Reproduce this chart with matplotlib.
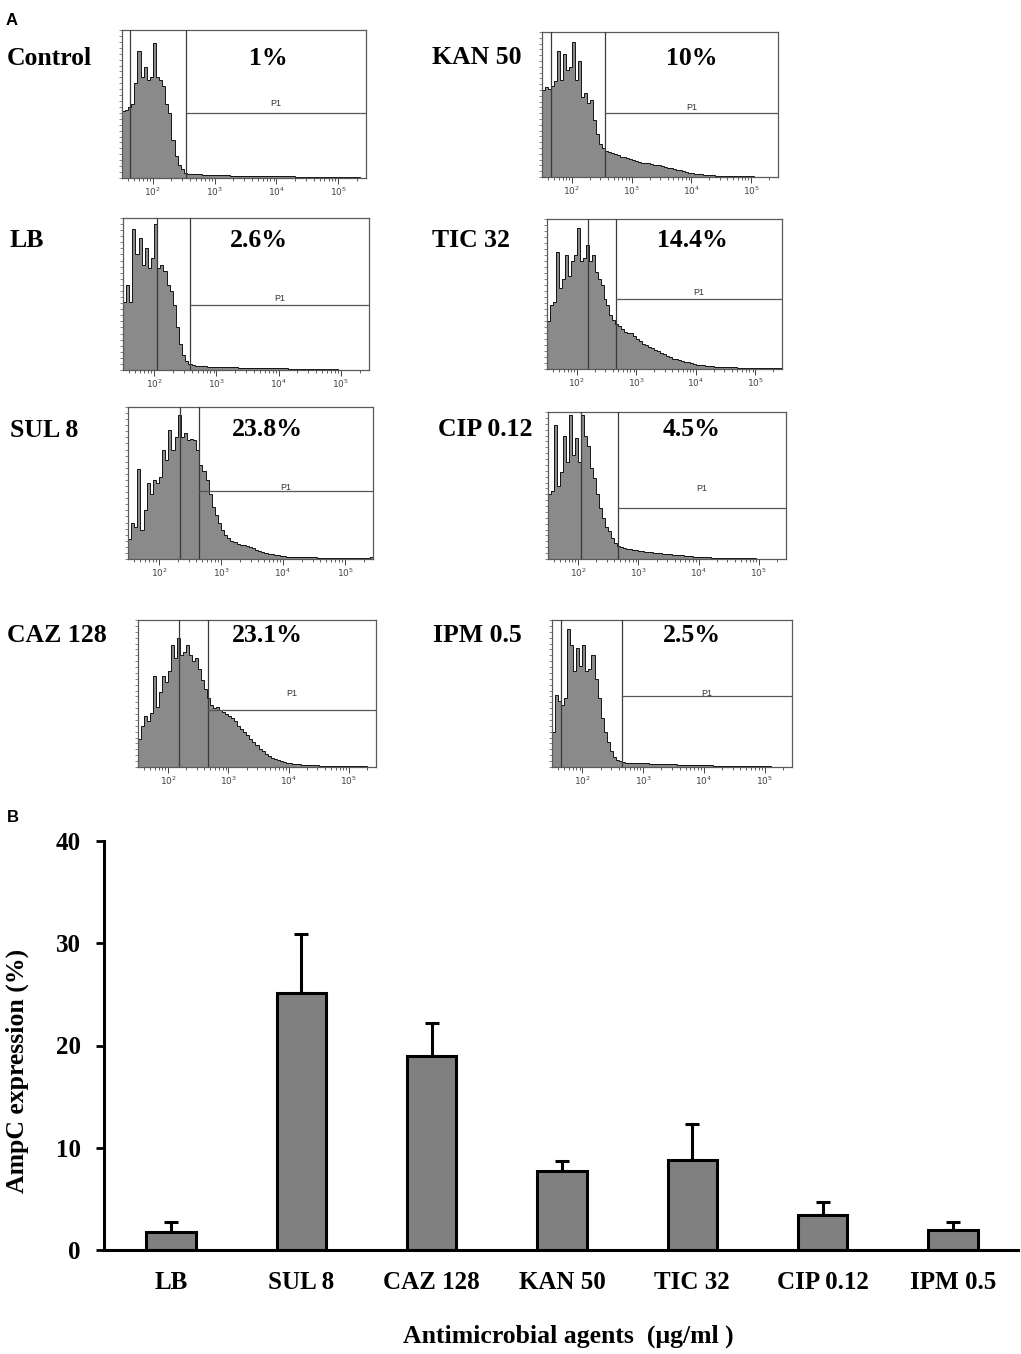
import numpy as np
import matplotlib
matplotlib.use("Agg")
import matplotlib.pyplot as plt
from matplotlib.ticker import LogLocator, NullFormatter, FixedLocator, FixedFormatter

# ---------------- data ----------------
panel_names = ["Control", "KAN 50", "LB", "TIC 32", "SUL 8", "CIP 0.12", "CAZ 128", "IPM 0.5"]
panel_pcts = ["1%", "10%", "2.6%", "14.4%", "23.8%", "4.5%", "23.1%", "2.5%"]
gate_pos = [340, 355, 372, 457, 446, 457, 457, 450]
marker_pos = [42, 45, 111, 155, 218, 112, 152, 44]
p1_level = [44, 44, 43, 47, 45, 35, 39, 48]
p1_label_level = [50, 48, 47, 51, 47, 48, 50, 50]
bin_lo_decade = 1.5
bin_width_decade = 0.05
x_range = (10 ** 1.5, 10 ** 5.45)

hist_control = [45, 46, 48, 50, 64, 86, 68, 75, 66, 68, 91, 68, 66, 62, 50, 44, 26, 15, 9, 6, 3.5,
                3.0, 2.8, 2.6, 2.5, 2.4, 2.2, 2.1, 2.0, 2.0, 1.9, 1.8, 1.8, 1.7, 1.7, 1.6,
                1.6, 1.6, 1.5, 1.5, 1.5, 1.4, 1.4, 1.4, 1.3, 1.3, 1.3, 1.3, 1.2, 1.2, 1.2, 1.2, 1.1, 1.1,
                1.1, 1.1, 1.0, 1.0, 1.0, 1.0, 1.0,
                0.9, 0.9, 0.8, 0.8, 0.8, 0.7, 0.7, 0.7, 0.6, 0.6, 0.6, 0.5, 0.5, 0.5, 0.4, 0.4, 0.3, 0.3]
hist_kan = [60, 62, 61, 63, 66, 87, 67, 85, 74, 76, 93, 67, 80, 55, 58, 51, 53, 39, 30, 23, 20,
            18, 17, 16.5, 16, 15, 14, 13.5, 13, 12.5, 12,
            11, 10.5, 10, 10, 9.5, 9, 8.5, 8, 8, 7.5,
            7, 6.5, 6, 5.5, 5, 4.5, 4, 3.5, 3, 2.5,
            2.2, 2, 1.8, 1.6, 1.4, 1.2, 1.1, 1.0, 0.9, 0.8,
            0.7, 0.7, 0.6, 0.6, 0.5, 0.5, 0.5, 0.4, 0.4, 0.4,
            0.3, 0.3, 0.3, 0.2, 0.2, 0.2, 0.1, 0.1]
hist_lb = [45, 56, 45, 93, 76, 87, 69, 80, 67, 74, 96, 67, 69, 65, 56, 52, 43, 28, 17, 10, 6, 3.7,
           3, 2.8, 2.6, 2.5, 2.4, 2.3, 2.2, 2.1, 2.0,
           1.9, 1.9, 1.8, 1.8, 1.7, 1.7, 1.6, 1.6, 1.5, 1.5, 1.4, 1.4, 1.3, 1.3, 1.2,
           1.2, 1.1, 1.1, 1.1, 1.0, 1.0, 1.0, 0.9, 0.9, 0.9, 0.8, 0.8, 0.8, 0.7, 0.7, 0.7, 0.6, 0.6, 0.5, 0.5,
           0.4, 0.4, 0.4, 0.3, 0.3, 0.3, 0.3, 0.2, 0.2, 0.2, 0.1, 0.1, 0.1]
hist_tic = [32, 43, 45, 78, 54, 60, 76, 62, 72, 76, 94, 72, 74, 83, 72, 76, 65, 60, 56, 47, 43, 36,
            33, 30, 29, 27, 25, 24, 24, 22, 20, 19,
            17, 16, 15, 14,
            13, 12, 11, 10, 9,
            8, 7, 6.5, 6, 5.5,
            5, 4.5, 4, 3.5, 3,
            2.8, 2.5, 2.3, 2, 1.8,
            1.6, 1.5, 1.4, 1.3, 1.3, 1.2, 1.2, 1.1, 1.0, 1.0,
            0.9, 0.9, 0.8, 0.8, 0.7, 0.7, 0.6, 0.6, 0.5, 0.5, 0.5, 0.4, 0.4]
hist_sul = [13, 24, 21, 59, 19, 32, 50, 43, 52, 50, 54, 72, 65, 85, 72, 80, 95, 80, 83, 78,
            79, 78, 72, 62, 58, 52, 43, 34, 29, 24, 19, 16, 14, 12, 11, 10, 9.5, 9, 8.5, 8,
            7, 6, 5, 4.5, 4, 3.5,
            3, 2.7, 2.4, 2.1, 1.9,
            1.5, 1.5, 1.4, 1.3, 1.3, 1.2, 1.2, 1.1, 1.0, 1.0,
            0.9, 0.9, 0.9, 0.8, 0.8, 0.8, 0.8, 0.7, 0.7, 0.7, 0.7, 0.7, 0.6, 0.6, 0.6, 0.6, 0.6, 1.5]
hist_cip = [44, 46, 91, 50, 59, 84, 66, 98, 71, 82, 66, 98, 84, 77, 62, 55, 44, 35, 28, 22, 19, 14,
            11, 9, 8, 7.5,
            7, 6.5, 6.2, 6, 5.7,
            5.4, 5.1, 4.8, 4.5, 4.2,
            4.0, 3.8, 3.6, 3.4, 3.2,
            3.0, 2.8, 2.6, 2.4, 2.2,
            2.0, 1.8, 1.6, 1.5, 1.4,
            1.3, 1.2, 1.1, 1.0, 1.0, 0.9, 0.9, 0.8, 0.8, 0.7,
            0.5, 0.5, 0.5, 0.5, 0.4, 0.4, 0.4, 0.4, 0.3, 0.3, 0.3, 0.3, 0.3, 0.2, 0.2, 0.2, 0.2, 0.2]
hist_caz = [19, 28, 35, 31, 37, 62, 41, 51, 62, 58, 65, 83, 74, 88, 76, 78, 83, 76, 72, 74,
            67, 59, 53, 47, 42, 40, 41, 39, 37.5, 36, 35, 33, 31, 28, 26, 24, 22, 19, 17, 15,
            12.5, 11, 9, 7.5, 6, 5.2,
            4.5, 4.0, 3.5, 3.0, 2.6,
            2.3, 2.0, 1.8, 1.6, 1.4,
            1.3, 1.2, 1.2, 1.1, 1.0, 1.0, 0.9, 0.9, 0.8, 0.8,
            0.7, 0.7, 0.6, 0.6, 0.5, 0.5, 0.5, 0.4, 0.4, 0.4, 0.3, 0.3, 0.3]
hist_ipm = [24, 49, 45, 42, 47, 94, 83, 65, 81, 69, 83, 65, 67, 76, 60, 47, 33, 24, 17, 11, 7, 5, 3.8,
            3.2, 3.0, 2.9, 2.8, 2.8, 2.7, 2.6, 2.5,
            2.4, 2.3, 2.3, 2.2, 2.1, 2.1, 2.0, 1.9, 1.9, 1.8,
            1.7, 1.7, 1.6, 1.5, 1.5, 1.4, 1.4, 1.3, 1.3, 1.2,
            1.1, 1.1, 1.0, 1.0, 0.9, 0.9, 0.8, 0.8, 0.7, 0.7,
            0.6, 0.6, 0.6, 0.5, 0.5, 0.5, 0.5, 0.4, 0.4, 0.4, 0.4, 0.3, 0.3, 0.3, 0.3, 0.3, 0.2, 0.2]
histograms = [hist_control, hist_kan, hist_lb, hist_tic, hist_sul, hist_cip, hist_caz, hist_ipm]

bar_categories = ["LB", "SUL 8", "CAZ 128", "KAN 50", "TIC 32", "CIP 0.12", "IPM 0.5"]
bar_values = [1.8, 25.1, 19.0, 7.7, 8.8, 3.4, 1.95]
bar_errors = [0.9, 5.8, 3.2, 1.0, 3.5, 1.3, 0.75]
decade_ticks = [1e2, 1e3, 1e4, 1e5]
decade_labels = [r"$10^2$", r"$10^3$", r"$10^4$", r"$10^5$"]

# ---------------- layout ----------------
W, H = 1021, 1354
fig = plt.figure(figsize=(W / 100, H / 100), dpi=100)
SERIF = ["Liberation Serif", "DejaVu Serif"]
SANS = ["Liberation Sans", "DejaVu Sans"]


def add_px_axes(x0, y0, x1, y1):
    return fig.add_axes([x0 / W, 1 - y1 / H, (x1 - x0) / W, (y1 - y0) / H])


def ftext(x, y, s, **kw):
    return fig.text(x / W, 1 - y / H, s, **kw)


panel_boxes = [(122, 30, 366, 178), (542, 32, 778, 177),
               (123, 218, 369, 370), (547, 219, 782, 369),
               (128, 407, 373, 559), (548, 412, 786, 559),
               (138, 620, 376, 767), (552, 620, 792, 767)]
name_pos = [(7, 65), (432, 64), (9, 247), (432, 247), (10, 437), (438, 436), (7, 642), (433, 642)]
pct_pos = [(268, 65), (692, 65), (259, 247), (692, 247), (267, 436), (692, 436), (267, 642), (692, 642)]

for i, hist in enumerate(histograms):
    ax = add_px_axes(*panel_boxes[i])
    vals = np.array(hist, dtype=float)
    edges = 10 ** (bin_lo_decade + bin_width_decade * np.arange(len(vals) + 1))
    ax.stairs(vals, edges, fill=True, color="#8a8a8a", lw=0, zorder=1)
    ax.stairs(vals, edges, color="#141414", lw=0.7, zorder=2)
    ax.set_xscale("log")
    ax.set_xlim(*x_range)
    ax.set_ylim(0, 100)
    ax.axvline(marker_pos[i], color="#3a3a3a", lw=0.9, zorder=3)
    ax.axvline(gate_pos[i], color="#3a3a3a", lw=0.9, zorder=3)
    ax.plot([gate_pos[i], x_range[1]], [p1_level[i], p1_level[i]], color="#555555", lw=0.9, zorder=3)
    ax.text(np.sqrt(gate_pos[i] * x_range[1]), p1_label_level[i], "P1", fontsize=6.5,
            family=SANS, color="#333333", ha="center", va="center")
    for s in ax.spines.values():
        s.set_color("#5a5a5a")
        s.set_linewidth(0.9)
    ax.xaxis.set_major_locator(FixedLocator(decade_ticks))
    ax.xaxis.set_major_formatter(FixedFormatter(decade_labels))
    ax.xaxis.set_minor_locator(LogLocator(base=10, subs=np.arange(2, 10), numticks=20))
    ax.xaxis.set_minor_formatter(NullFormatter())
    ax.tick_params(axis="x", which="major", length=4, width=0.7, colors="#444444",
                   labelsize=6.5, pad=1.5)
    ax.tick_params(axis="x", which="minor", length=2.5, width=0.6, colors="#444444")
    ax.set_yticks(np.linspace(0, 100, 26))
    ax.set_yticklabels([])
    ax.tick_params(axis="y", length=2.5, width=0.5, colors="#555555")

    ftext(name_pos[i][0], name_pos[i][1], panel_names[i], family=SERIF, fontweight="bold",
          fontsize=18.5, ha="left", va="baseline")
    ftext(pct_pos[i][0], pct_pos[i][1], panel_pcts[i], family=SERIF, fontweight="bold",
          fontsize=18.5, ha="center", va="baseline")

ftext(6, 25, "A", family=SANS, fontweight="bold", fontsize=12, ha="left", va="baseline")
ftext(7, 822, "B", family=SANS, fontweight="bold", fontsize=12, ha="left", va="baseline")

# ---------------- bar chart ----------------
axb = add_px_axes(104, 841, 1018, 1250)
x = np.arange(len(bar_categories))
axb.errorbar(x, bar_values, yerr=[np.zeros(len(x)), bar_errors], fmt="none", ecolor="black",
             elinewidth=2.2, capsize=5, capthick=2.2, zorder=1)
axb.bar(x, bar_values, width=0.38, color="#808080", edgecolor="black", linewidth=2.2, zorder=2)
axb.set_xlim(-0.515, 6.5)
axb.set_ylim(0, 40)
axb.spines["top"].set_visible(False)
axb.spines["right"].set_visible(False)
axb.spines["left"].set_linewidth(2.2)
axb.spines["bottom"].set_linewidth(2.2)
axb.set_yticks([0, 10, 20, 30, 40])
axb.set_xticks(x)
axb.set_xticklabels(bar_categories)
axb.tick_params(axis="y", length=5.8, width=2, pad=11, labelsize=18)
axb.tick_params(axis="x", length=0, pad=15, labelsize=18)
for lab in axb.get_xticklabels() + axb.get_yticklabels():
    lab.set_fontfamily(SERIF)
    lab.set_fontweight("bold")

ftext(17, 1071, "AmpC expression (%)", family=SERIF, fontweight="bold", fontsize=18.5,
      rotation=90, ha="center", va="center")
ftext(568, 1336, "Antimicrobial agents  (\u03bcg/ml )", family=SERIF, fontweight="bold",
      fontsize=18.5, ha="center", va="center")

fig.savefig("out.png", dpi=100, facecolor="white")
